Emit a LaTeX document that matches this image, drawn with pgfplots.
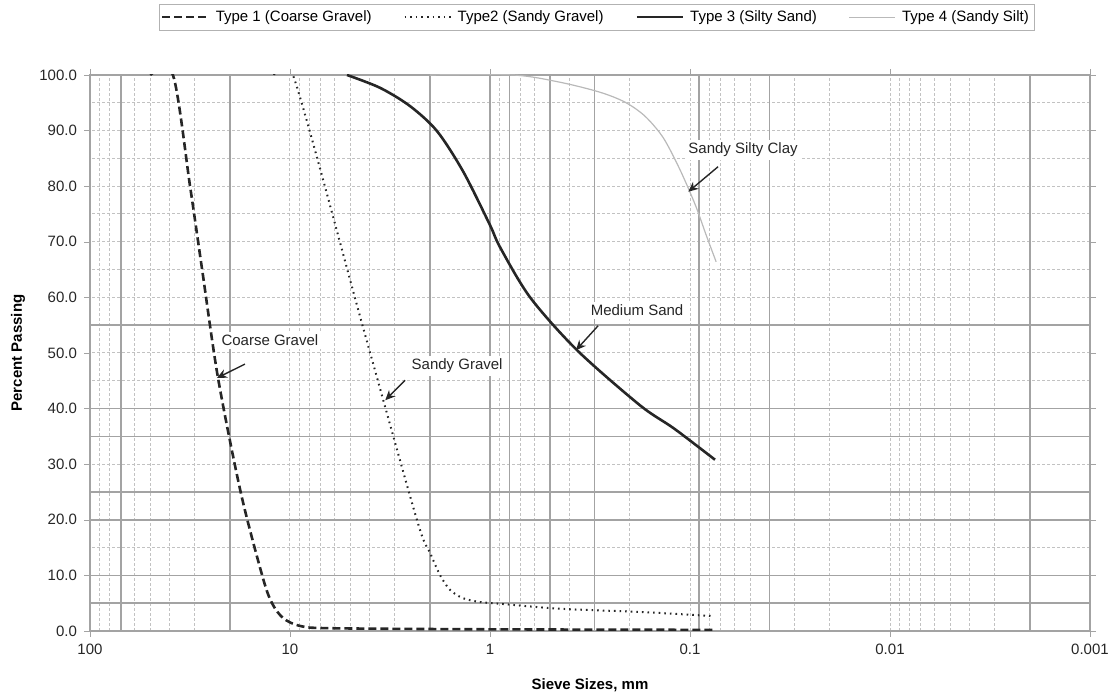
\documentclass[border=0pt]{standalone}
\usepackage{pgfplots}
\pgfplotsset{compat=1.18}
\usepackage{fontspec}
\setmainfont{Liberation Sans}
\usetikzlibrary{arrows.meta}

\definecolor{gridsolid}{gray}{0.64}
\definecolor{griddash}{gray}{0.76}

\begin{document}
\begin{tikzpicture}
\useasboundingbox (-45pt,-31.5pt) rectangle (512pt,315.5pt);
\begin{axis}[
 at={(0,0)}, anchor=south west,
 scale only axis, width=500pt, height=278pt,
 xmode=log, x dir=reverse,
 xmin=0.001, xmax=100,
 ymin=0, ymax=100,
 axis line style={gridsolid, line width=0.8pt},
 xtick={100,10,1,0.1,0.01,0.001},
 xticklabels={100,10,1,0.1,0.01,0.001},
 minor xtick={20,30,40,50,60,70,80,90,2,3,4,5,6,7,8,9,0.2,0.3,0.4,0.5,0.6,0.7,0.8,0.9,
   0.02,0.03,0.04,0.05,0.06,0.07,0.08,0.09,0.002,0.003,0.004,0.005,0.006,0.007,0.008,0.009},
 ytick={0,10,...,100},
 minor y tick num=1,
 yticklabel style={/pgf/number format/.cd, fixed, fixed zerofill, precision=1},
 /pgf/number format/assume math mode=true,
 tick label style={font=\fontsize{7.5}{9}\selectfont, text=black!85},
 tick align=outside,
 major tick length=3pt, minor tick length=0pt,
 tick style={gridsolid},
 xmajorgrids, xminorgrids, ymajorgrids, yminorgrids,
 major grid style={griddash, dash pattern=on 1.5pt off 1pt, line width=0.5pt},
 minor grid style={griddash, dash pattern=on 1.5pt off 1pt, line width=0.5pt},
 extra x ticks={70,20,2,1,0.8,0.5,0.3,0.09,0.04,0.002},
 extra x tick labels={},
 extra x tick style={grid=major, major grid style={gridsolid, solid, line width=0.75pt}, major tick length=0pt},
 extra y ticks={5,10,20,25,35,40,55},
 extra y tick labels={},
 extra y tick style={grid=major, major grid style={gridsolid, solid, line width=0.75pt}, major tick length=0pt},
 xlabel={\textbf{Sieve Sizes, mm}},
 ylabel={\textbf{Percent Passing}},
 label style={font=\fontsize{7.5}{9}\selectfont},
 xlabel style={at={(axis description cs:0.5,-0.097)}, anchor=center},
 ylabel style={at={(axis description cs:-0.072,0.5)}, anchor=center, rotate=0},
 legend columns=4,
 legend style={at={(0.507,1.104)}, anchor=center, draw=gray!60, fill=white,
   font=\fontsize{7.5}{9}\selectfont, inner sep=1pt,
   /tikz/every even column/.append style={column sep=14pt},
   /tikz/every odd column/.append style={column sep=1pt}},
 legend image code/.code={\draw[#1] (0pt,0pt) -- (23pt,0pt);},
 legend cell align=left,
]

% Type 1 (Coarse Gravel)
\addplot[black!85, line width=1.3pt, dash pattern=on 4pt off 2pt, smooth, tension=0.5] table {
d P
50 100
38.5 100
31.6 80
27.5 65
22.9 45.5
17.6 24.8
13.7 9.7
12.3 5
10.8 2.3
8.9 0.9
6.3 0.5
1.0 0.3
0.075 0.2
};
\addlegendentry{Type 1 (Coarse Gravel)}

% Type 2 (Sandy Gravel)
\addplot[black!85, line width=1pt, dash pattern=on 0.8pt off 2pt, smooth, tension=0.5] table {
d P
12 100
9.66 100
4.32 54.7
2.32 20
2.0 14.2
1.78 10.1
1.585 7.4
1.365 5.9
1.12 5.2
0.89 4.9
0.447 4.0
0.172 3.4
0.079 2.7
};
\addlegendentry{Type2 (Sandy Gravel)}

% Type 3 (Silty Sand)
\addplot[black!85, line width=1.3pt, smooth, tension=0.5] table {
d P
5.19 100
3.55 97.7
2.51 94.4
1.84 89.9
1.36 82.6
1.0 73
0.89 69
0.63 60
0.367 50.5
0.178 40.6
0.12 36.4
0.075 30.8
};
\addlegendentry{Type 3 (Silty Sand)}

% Type 4 (Sandy Silt)
\addplot[gray!55, line width=0.6pt, smooth, tension=0.5] table {
d P
2.0 100
0.767 100
0.447 98.7
0.282 96.9
0.211 95.1
0.168 92.6
0.136 88.7
0.112 82.9
0.094 76.6
0.083 71.2
0.074 66.4
};
\addlegendentry{Type 4 (Sandy Silt)}

% annotations
\tikzset{ann/.style={fill=white, inner sep=1.5pt, font=\fontsize{7.5}{9}\selectfont, text=black!85},
         arr/.style={black!85, line width=0.7pt, -{Stealth[length=5pt,width=4.5pt]}}}
\node[ann] at (axis cs:12.6,52.3) {Coarse Gravel};
\draw[arr] (axis cs:16.8,48) -- (axis cs:23.2,45.5);
\node[ann] at (axis cs:1.46,47.7) {Sandy Gravel};
\draw[arr] (axis cs:2.66,45.1) -- (axis cs:3.34,41.5);
\node[ann] at (axis cs:0.184,57.7) {Medium Sand};
\draw[arr] (axis cs:0.288,54.9) -- (axis cs:0.372,50.5);
\node[ann] at (axis cs:0.0543,86.5) {Sandy Silty Clay};
\draw[arr] (axis cs:0.0724,83.5) -- (axis cs:0.102,79);
\end{axis}
\end{tikzpicture}
\end{document}
